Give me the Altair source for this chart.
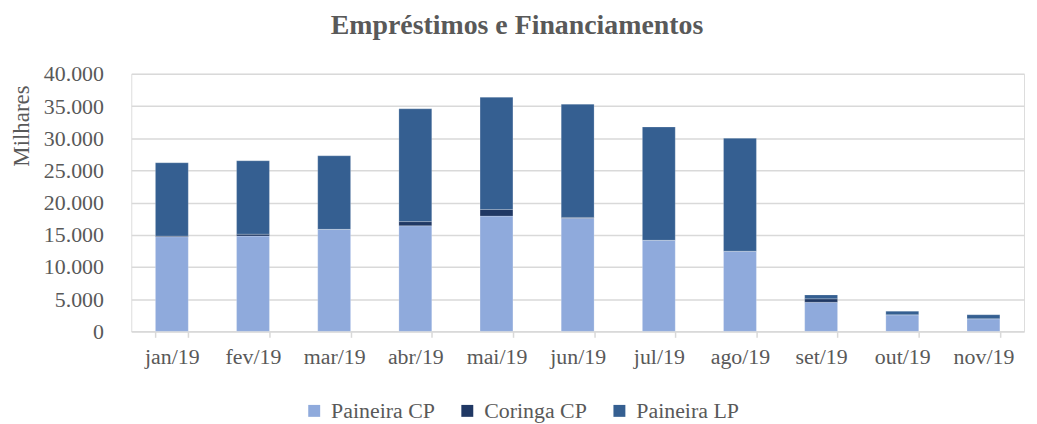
import altair as alt
import pandas as pd

months = ["jan/19", "fev/19", "mar/19", "abr/19", "mai/19", "jun/19",
          "jul/19", "ago/19", "set/19", "out/19", "nov/19"]
paineira_cp = [14700, 14800, 15850, 16400, 17900, 17550, 14150, 12450, 4520, 2580, 1960]
coringa_cp = [100, 300, 0, 650, 1030, 150, 0, 0, 530, 0, 0]
paineira_lp = [11390, 11400, 11420, 17520, 17440, 17590, 17590, 17530, 610, 550, 620]

series = ["Paineira CP", "Coringa CP", "Paineira LP"]
colors = ["#8FAADC", "#203864", "#355F91"]

rows = []
for i, m in enumerate(months):
    for k, (s, vals) in enumerate(zip(series, [paineira_cp, coringa_cp, paineira_lp])):
        rows.append({"mes": m, "serie": s, "valor": vals[i], "ordem": k})
df = pd.DataFrame(rows)

FONT = "Liberation Serif"
GREY = "#595959"

bars = alt.Chart(df).mark_bar(stroke="#FFFFFF", strokeWidth=0.6, strokeOpacity=0.35).encode(
    x=alt.X("mes:N", sort=months, title=None,
            scale=alt.Scale(paddingInner=0.595, paddingOuter=0.2975),
            axis=alt.Axis(labelAngle=0, tickBand="extent", ticks=True, tickSize=6,
                          tickColor="#D9D9D9", tickWidth=1.5, domainColor="#D9D9D9",
                          domainWidth=1.5, grid=False, labelFont=FONT, labelFontSize=22,
                          labelColor=GREY, labelPadding=9)),
    y=alt.Y("valor:Q", stack="zero", title="Milhares",
            scale=alt.Scale(domain=[0, 40000], nice=False),
            axis=alt.Axis(values=list(range(0, 40001, 5000)), format=",.0f",
                          ticks=False, domain=False, gridColor="#D9D9D9", gridWidth=1.5,
                          labelFont=FONT, labelFontSize=22, labelColor=GREY, labelPadding=28,
                          titleFont=FONT, titleFontSize=23, titleColor=GREY,
                          titleFontWeight="normal", titleAngle=-90, titleX=-110, titleY=52,
                          titleAlign="center", titleBaseline="middle")),
    color=alt.Color("serie:N", sort=series,
                    scale=alt.Scale(domain=series, range=colors),
                    legend=alt.Legend(title=None, orient="none", direction="horizontal",
                                      legendX=173, legendY=328, symbolType="square",
                                      symbolSize=144, symbolStrokeWidth=0, labelFont=FONT,
                                      labelFontSize=22, labelColor=GREY, labelOffset=6,
                                      columnPadding=21)),
    order=alt.Order("ordem:Q", sort="ascending"),
)

chart = bars.properties(
    width=898, height=259,
    autosize=alt.AutoSizeParams(type="none"),
    padding={"left": 124, "top": 65, "right": 5, "bottom": 100},
    title=alt.TitleParams("Empréstimos e Financiamentos", font=FONT, fontSize=28,
                          fontWeight="bold", color=GREY, anchor="middle", frame="group",
                          offset=23, dx=-61),
).configure_view(stroke=None).configure(locale={"number": {"decimal": ",", "thousands": ".", "grouping": [3], "currency": ["R$", ""]}})

chart.save("out.html", embed_options={"renderer": "svg", "actions": False})
